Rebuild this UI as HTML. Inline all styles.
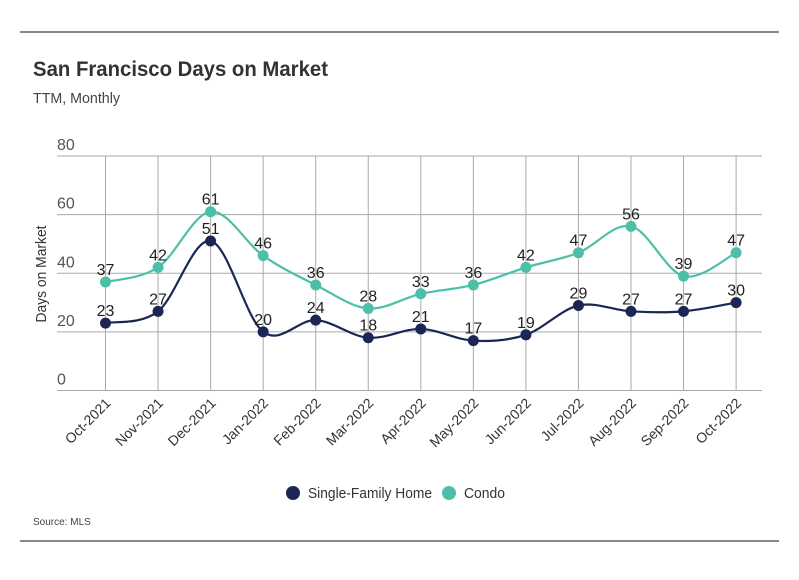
<!DOCTYPE html>
<html><head><meta charset="utf-8"><style>
body{margin:0;background:#fff;font-family:"Liberation Sans",sans-serif}
svg text{font-family:"Liberation Sans",sans-serif}
</style></head><body>
<svg id="c" width="799" height="575" xmlns="http://www.w3.org/2000/svg">
<line x1="20" y1="32" x2="779" y2="32" stroke="#111" stroke-width="1"/>
<line x1="20" y1="541" x2="779" y2="541" stroke="#111" stroke-width="1"/>
<text x="33" y="76" font-size="21" font-weight="bold" fill="#333" textLength="295" lengthAdjust="spacingAndGlyphs">San Francisco Days on Market</text>
<text x="33" y="103" font-size="15" fill="#444" textLength="87" lengthAdjust="spacingAndGlyphs">TTM, Monthly</text>
<text transform="translate(46,274) rotate(-90)" text-anchor="middle" font-size="15" fill="#333" textLength="97" lengthAdjust="spacingAndGlyphs">Days on Market</text>
<g id="grid"></g><g id="lines"></g><g id="marks"></g>
<g>
<circle cx="293" cy="493" r="7" fill="#1c2654"/>
<text x="308" y="498" font-size="15" fill="#333" textLength="124" lengthAdjust="spacingAndGlyphs">Single-Family Home</text>
<circle cx="449" cy="493" r="7" fill="#4dbfa8"/>
<text x="464" y="498" font-size="15" fill="#333" textLength="41" lengthAdjust="spacingAndGlyphs">Condo</text>
</g>
<text x="33" y="525" font-size="10" fill="#444">Source:  MLS</text>
</svg>
<script>
const categories=["Oct-2021","Nov-2021","Dec-2021","Jan-2022","Feb-2022","Mar-2022","Apr-2022","May-2022","Jun-2022","Jul-2022","Aug-2022","Sep-2022","Oct-2022"];
const sfhValues=[23,27,51,20,24,18,21,17,19,29,27,27,30];
const condoValues=[37,42,61,46,36,28,33,36,42,47,56,39,47];
const yTicks=[0,20,40,60,80];
const NS="http://www.w3.org/2000/svg";
const x0=105.5,step=52.55,yBase=390.5,yTop=156;
const xs=i=>x0+i*step;
const ys=v=>yBase-(v/80)*(yBase-yTop);
function mk(tag,attrs,parent,txt){const e=document.createElementNS(NS,tag);for(const k in attrs)e.setAttribute(k,attrs[k]);if(txt!=null)e.textContent=txt;parent.appendChild(e);return e;}
const grid=document.getElementById('grid'),lines=document.getElementById('lines'),marks=document.getElementById('marks');
yTicks.forEach(t=>{
 const l=mk('line',{x1:57,x2:762,y1:ys(t),y2:ys(t),stroke:'#aaa','stroke-width':1},grid);
 
 
 const tx=mk('text',{x:57,y:ys(t)-6,'font-size':16,fill:'#555'},grid,t);
 
 
});
categories.forEach((c,i)=>{
 const l=mk('line',{x1:xs(i),x2:xs(i),y1:yTop,y2:yBase,stroke:'#aaa','stroke-width':1},grid);
 
 
 const tx=mk('text',{x:0,y:0,'font-size':14,fill:'#333','text-anchor':'end',transform:`translate(${xs(i)+6},${404}) rotate(-45)`},grid,c);
 
 
});
function path(vals){
 const p=vals.map((v,i)=>[xs(i),ys(v)]);let d=`M${p[0][0]},${p[0][1]}`;
 for(let i=0;i<p.length-1;i++){const a=p[i-1]||p[i],b=p[i],c=p[i+1],e=p[i+2]||c;const t=6;
  d+=` C${b[0]+(c[0]-a[0])/t},${b[1]+(c[1]-a[1])/t} ${c[0]-(e[0]-b[0])/t},${c[1]-(e[1]-b[1])/t} ${c[0]},${c[1]}`;}
 return d;}
function series(vals,color,name){
 const pth=mk('path',{d:path(vals),fill:'none',stroke:color,'stroke-width':2.2},lines);
 
 
 vals.forEach((v,i)=>{
  const c=mk('circle',{cx:xs(i),cy:ys(v),r:5.5,fill:color},marks);
  
  
  const t=mk('text',{x:xs(i),y:ys(v)-7,'font-size':16,fill:'#222','text-anchor':'middle'},marks,v);
  
  
 });
}
series(condoValues,'#4dbfa8','condo');
series(sfhValues,'#1c2654','sfh');
</script>
</body></html>
